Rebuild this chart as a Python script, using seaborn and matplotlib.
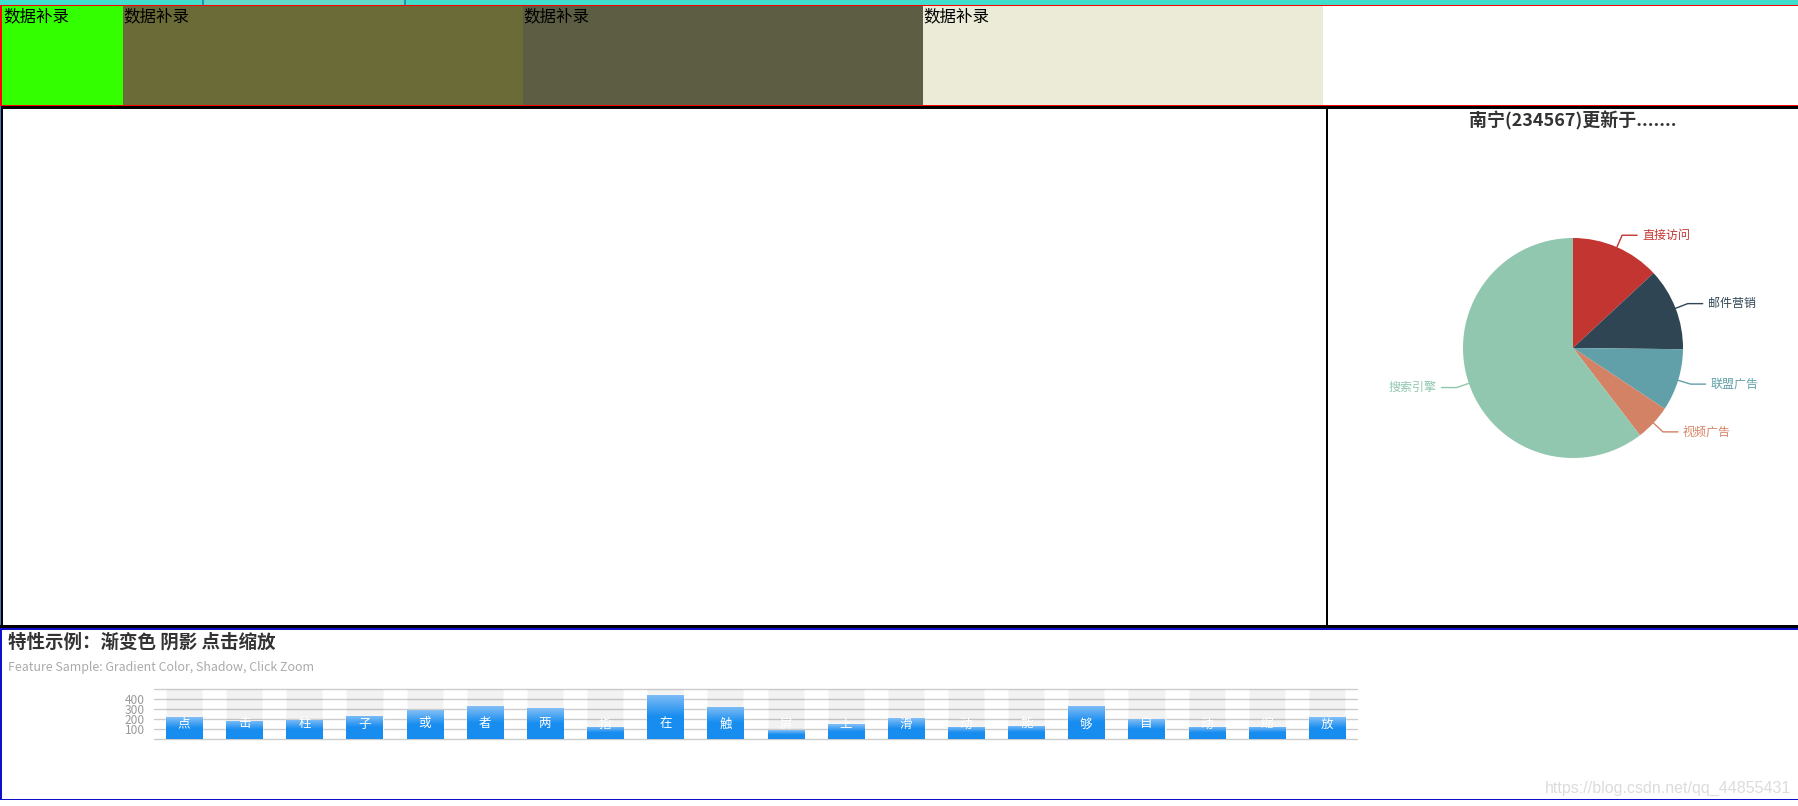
import numpy as np
import matplotlib
matplotlib.use('Agg')
import matplotlib.pyplot as plt
import seaborn as sns
from matplotlib.patches import Rectangle
from matplotlib.colors import LinearSegmentedColormap

# ---------------- data ----------------
block_labels = ['数据补录', '数据补录', '数据补录', '数据补录']
block_colors = ['#33ff00', '#6b6b37', '#5d5d44', '#ecebd7']

pie_title = '南宁(234567)更新于.......'
pie_names = ['直接访问', '邮件营销', '联盟广告', '视频广告', '搜索引擎']
pie_values = [335, 310, 234, 135, 1548]
pie_colors = ['#c23531', '#2f4554', '#61a0a8', '#d48265', '#91c7ae']

bar_title = '特性示例：渐变色 阴影 点击缩放'
bar_subtitle = 'Feature Sample: Gradient Color, Shadow, Click Zoom'
bar_labels = list('点击柱子或者两指在触屏上滑动能够自动缩放')
bar_values = [220, 182, 191, 234, 290, 330, 310, 123, 442, 321,
              90, 149, 210, 122, 133, 334, 198, 123, 125, 220]
shadow_max = 500
y_ticks = [0, 100, 200, 300, 400, 500]
y_tick_labels = ['', '100', '200', '300', '400', '']
watermark = 'https://blog.csdn.net/qq_44855431'

# ---------------- layout ----------------
W, H = 1799, 806
sns.set_theme(style='white')
plt.rcParams['font.family'] = ['Noto Sans CJK SC', 'DejaVu Sans']


def px(v):
    return v * 72 / 100


fig = plt.figure(figsize=(W / 100, H / 100), dpi=100)
bg = fig.add_axes([0, 0, 1, 1])
bg.set_xlim(0, W)
bg.set_ylim(H, 0)
bg.axis('off')
bg.set_zorder(0)


def rect(x0, y0, x1, y1, c, z=1):
    bg.add_patch(Rectangle((x0, y0), x1 - x0, y1 - y0, facecolor=c,
                           edgecolor='none', zorder=z))


# top strip
rect(0, 0, W, 4.5, '#40dccc')
rect(204, 0, 404, 4.5, '#62d8c8')
rect(202, 0, 204, 4.5, '#2a8fb0', 2)
rect(404, 0, 406, 4.5, '#2a8fb0', 2)

# top section with blocks
block_edges = [2, 123, 523, 923, 1323]
for i, (lab, col) in enumerate(zip(block_labels, block_colors)):
    rect(block_edges[i], 5.8, block_edges[i + 1], 104.8, col)
    bg.text(block_edges[i] + (1 if i == 0 else 0), 16.5, lab, fontsize=px(16.5),
            color='black', ha='left', va='center', zorder=3)
rect(0, 4.5, W, 5.8, '#ff0000', 2)
rect(0, 4.5, 2, 106, '#ff0000', 2)
rect(0, 104.8, W, 106, '#ff0000', 2)

# middle section frame
rect(0, 106, W, 108.5, 'black', 2)
rect(0, 106, 1.5, 628, '#4a78c0', 2)
rect(1.5, 108, 3.5, 626, 'black', 2)
rect(1326, 108, 1328.5, 626, 'black', 2)
rect(0, 625, W, 628, 'black', 2)

# bottom section frame
rect(0, 628, W, 629.5, '#1010cc', 2)
rect(0, 628, 2, 800, '#1010cc', 2)
rect(0, 798.5, W, 800, '#1010cc', 2)

# titles
bg.text(8, 642, bar_title, fontsize=px(18.5), weight='bold', color='#333333',
        ha='left', va='center', zorder=3)
bg.text(8, 667, bar_subtitle, fontsize=px(12.4), color='#aaaaaa',
        ha='left', va='center', zorder=3)
bg.text(1791, 788, watermark, fontsize=px(16), color='#dcdcdc',
        ha='right', va='center', family='Liberation Sans', zorder=3)
bg.text(1573, 121, pie_title, fontsize=px(18), weight='bold', color='#333333',
        ha='center', va='center', zorder=3)

# ---------------- pie ----------------
cx, cy, R, half = 1573, 348, 110, 170
pax = fig.add_axes([(cx - half) / W, (H - cy - half) / H, 2 * half / W, 2 * half / H])
pax.set_zorder(2)
pax.patch.set_alpha(0)
wedges, _ = pax.pie(pie_values, colors=pie_colors, startangle=90,
                    counterclock=False, radius=1,
                    wedgeprops=dict(linewidth=0))
for w, name, col in zip(wedges, pie_names, pie_colors):
    a = np.deg2rad((w.theta1 + w.theta2) / 2)
    ca, sa = np.cos(a), np.sin(a)
    side = 1 if ca >= 0 else -1
    e = (ca, sa)
    el = (ca * (1 + 13 / R), sa * (1 + 13 / R))
    en = (el[0] + side * 15 / R, el[1])
    pax.plot([e[0], el[0], en[0]], [e[1], el[1], en[1]], color=col, lw=1,
             clip_on=False)
    pax.text(en[0] + side * 5 / R, en[1], name, color=col, fontsize=px(12),
             ha='left' if side > 0 else 'right', va='center', clip_on=False)
pax.set_xlim(-half / R, half / R)
pax.set_ylim(-half / R, half / R)
pax.axis('off')

# ---------------- bar chart ----------------
bx0, bx1, by_top, by_bot = 154, 1357, 689, 739
bax = fig.add_axes([bx0 / W, (H - by_bot) / H, (bx1 - bx0) / W, (by_bot - by_top) / H])
bax.set_zorder(2)
bax.patch.set_alpha(0)
pos = list(range(len(bar_values)))
sns.barplot(x=pos, y=[shadow_max] * len(pos), color='black', alpha=0.05,
            width=0.6, saturation=1, errorbar=None, orient='x', ax=bax)
n_shadow = len(bax.patches)
sns.barplot(x=pos, y=bar_values, color='#188df0', width=0.6, saturation=1,
            errorbar=None, orient='x', ax=bax)

cmap = LinearSegmentedColormap.from_list('grad', ['#188df0', '#188df0', '#83bff6'])
grad = np.linspace(1, 0, 256).reshape(-1, 1)
for p in bax.patches[n_shadow:]:
    x, w, h = p.get_x(), p.get_width(), p.get_height()
    im = bax.imshow(grad, cmap=cmap, extent=[x, x + w, 0, h], aspect='auto',
                    zorder=p.get_zorder() + 0.01, interpolation='bilinear')
    im.set_clip_path(p)

for i, lab in zip(pos, bar_labels):
    bax.annotate(lab, xy=(i, 0), xytext=(0, px(15)), textcoords='offset points',
                 ha='center', va='center', color='white', fontsize=px(12.5),
                 zorder=10)

bax.set_xlim(-0.5, len(pos) - 0.5)
bax.set_ylim(0, shadow_max)
bax.set_xticks(pos)
bax.set_xticklabels([])
bax.set_yticks(y_ticks)
bax.set_yticklabels(y_tick_labels, color='#999999', fontsize=px(12))
bax.tick_params(axis='both', length=0)
bax.tick_params(axis='y', pad=px(9))
bax.set_axisbelow(True)
bax.yaxis.grid(True, color='#cccccc', lw=1)
for gl in bax.get_ygridlines():
    gl.set_clip_on(False)
for s in bax.spines.values():
    s.set_visible(False)
bax.set_xlabel('')
bax.set_ylabel('')

fig.savefig('out.png', dpi=100)
